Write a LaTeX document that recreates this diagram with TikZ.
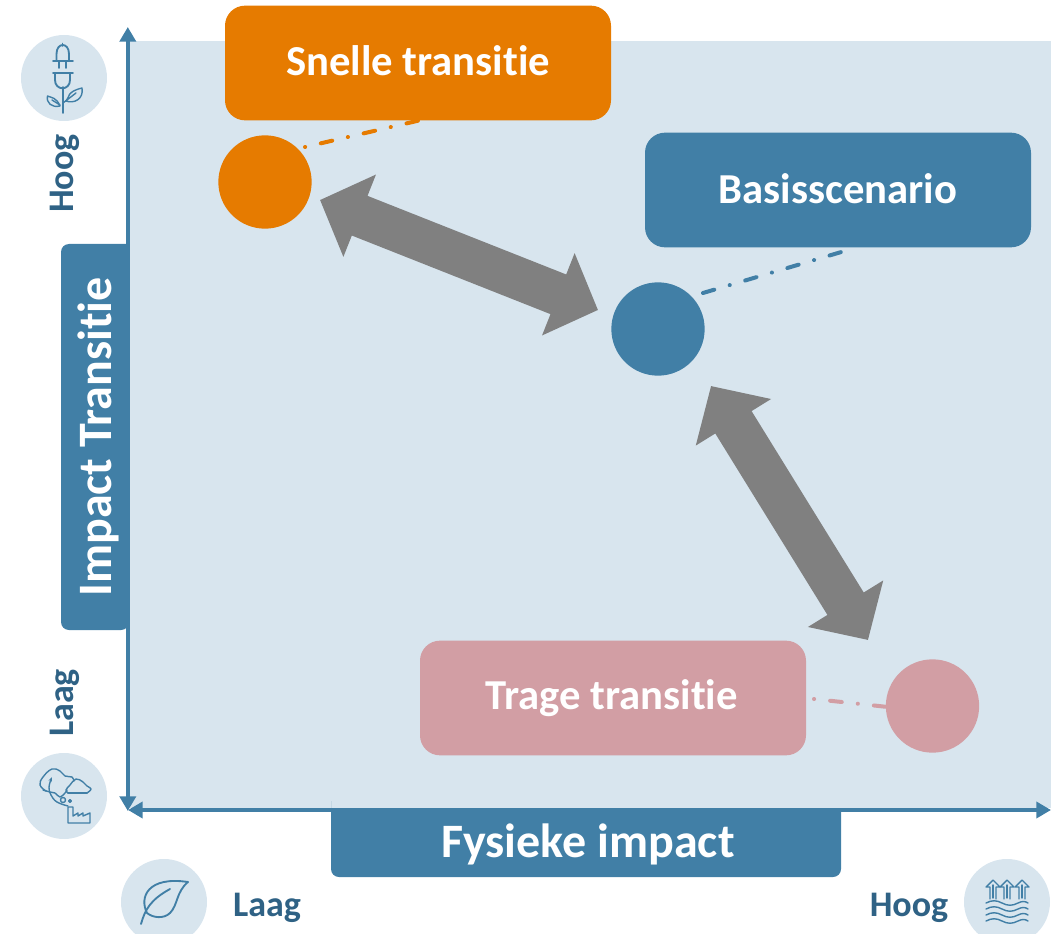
\documentclass[tikz,border=0pt]{standalone}
\usepackage{fontspec}
\setmainfont[Ligatures=NoCommon]{Carlito}
\usetikzlibrary{arrows.meta}
\definecolor{plotbg}{HTML}{D8E5EE}
\definecolor{axisblue}{HTML}{417FA6}
\definecolor{darktext}{HTML}{2F6285}
\definecolor{orangeb}{HTML}{E67B00}
\definecolor{pinkb}{HTML}{D29EA4}
\definecolor{grayarrow}{HTML}{808080}
\tikzset{
  scenario/.style={rounded corners=15pt,minimum width=289.5pt,minimum height=86pt,inner sep=0pt,text=white,font=\fontsize{32}{35}\selectfont\bfseries},
  dot/.style={circle,minimum size=70pt,inner sep=0pt},
  iconbg/.style={circle,fill=plotbg,minimum size=64.5pt,inner sep=0pt},
  axislabel/.style={text=white,font=\fontsize{36}{39}\selectfont\bfseries,inner sep=0pt},
  endlabel/.style={text=darktext,font=\fontsize{27}{30}\selectfont\bfseries,inner sep=0pt},
  axisline/.style={draw=axisblue,line width=2.8pt,{Triangle[length=11pt,width=12pt]}-{Triangle[length=11pt,width=12pt]}},
  bigarrow/.style={draw=grayarrow,line width=32pt,{Triangle[length=32pt,width=64.5pt]}-{Triangle[length=32pt,width=64.5pt]}},
  linkdot/.style={line width=3pt,line cap=round,dash pattern=on 0.1pt off 12.05pt on 8.8pt off 12.05pt},
  linkdash/.style={line width=3pt,line cap=round,dash pattern=on 8.8pt off 12.05pt on 0.1pt off 12.05pt},
  icon/.style={draw=axisblue,line width=1.4pt,fill=none,line cap=round,line join=round},
  iconthin/.style={draw=axisblue,line width=1.05pt,fill=none,line cap=round,line join=round}
}
\begin{document}
\begin{tikzpicture}[x=0.75pt,y=-0.75pt]
\useasboundingbox (0,0) rectangle (1064,934);
\fill[plotbg] (130,41) rectangle (1051,808);
\fill[axisblue,rounded corners=6pt] (129,244) -- (61,244) -- (61,630) -- (129,630) [sharp corners] -- cycle;
\fill[axisblue] (331,809) -- (841,809) [rounded corners=6pt] -- (841,877) -- (331,877) -- (331,809) [sharp corners] -- cycle;
\node[axislabel,rotate=90] (ylab) at (98.5,437) {Impact Transitie};
\node[axislabel] (xlab) at (588,844) {Fysieke impact};
\coordinate (ytop) at (127.8,27);
\coordinate (ybot) at (127.8,811);
\coordinate (xleft) at (128,810);
\coordinate (xright) at (1051,810);
\draw[axisline] (ybot) -- (ytop);
\draw[axisline] (xleft) -- (xright);
\node[scenario,fill=orangeb] (snel) at (418,63) {\raisebox{3.7pt}{Snelle transitie}};
\node[scenario,fill=axisblue] (basis) at (838,190) {\raisebox{2.5pt}{Basisscenario}};
\node[scenario,fill=pinkb] (traag) at (613,698) {\raisebox{2.5pt}{\hspace*{-2pt}Trage transitie}};
\node[dot,fill=orangeb] (d1) at (265,182) {};
\node[dot,fill=axisblue] (d2) at (658,329) {};
\node[dot,fill=pinkb] (d3) at (932.5,706) {};
\coordinate (l1a) at (305,147);
\coordinate (l1b) at (419,120.5);
\coordinate (l2a) at (703,293);
\coordinate (l2b) at (843,251.5);
\coordinate (l3a) at (814,699);
\coordinate (l3b) at (888,707);
\draw[linkdot,draw=orangeb] (l1a) -- (l1b);
\draw[linkdash,draw=axisblue] (l2a) -- (l2b);
\draw[linkdot,draw=pinkb] (l3a) -- (l3b);
\coordinate (a1) at (320,200);
\coordinate (a2) at (598,310);
\coordinate (a3) at (711,386);
\coordinate (a4) at (868,640);
\draw[bigarrow] (a1) -- (a2);
\draw[bigarrow] (a3) -- (a4);
\node[endlabel,rotate=90] (hoogy) at (64.5,173.5) {Hoog};
\node[endlabel,rotate=90] (laagy) at (64.5,703) {Laag};
\node[endlabel] (laagx) at (267,908) {Laag};
\node[endlabel] (hoogx) at (909,908) {Hoog};
\node[iconbg] (i1) at (64,78) {};
\node[iconbg] (i2) at (64,796) {};
\node[iconbg] (i3) at (164,902) {};
\node[iconbg] (i4) at (1007,902) {};
% plug
\draw[icon] (53,61) -- (73,61);
\draw[icon] (56.5,61) -- (56.5,54) .. controls (56.5,42) and (69,42) .. (69,54) -- (69,61);
\draw[icon] (62.5,46) -- (62.5,43.5);
\draw[icon] (59,61) -- (59,68) (66,61) -- (66,68);
\draw[icon] (53,73) -- (73,73);
\draw[icon] (55,73) -- (55,80) .. controls (55,91) and (70,91) .. (70,80) -- (70,73);
\draw[icon] (62.7,87) -- (62.7,113);
\draw[iconthin] (66,101) .. controls (70,97) and (66,92) .. (82,88) .. controls (84,99) and (74,104) .. (66,101);
\draw[iconthin] (63,103) -- (76,93);
\draw[iconthin] (60,106) .. controls (56,97) and (52,98) .. (47.5,96) .. controls (46,103) and (52,108) .. (60,106);
\draw[iconthin] (60,105) -- (52,100);
% clouds and factory
\draw[iconthin] plot[smooth,tension=0.7] coordinates {(46,791) (40,785) (43,777) (52,769) (60,771) (65,776) (72,777) (74,781)};
\draw[iconthin] plot[smooth,tension=0.7] coordinates {(43,790) (50,792) (55,793) (60,797) (65,793) (67,790)};
\draw[iconthin] plot[smooth,tension=0.7] coordinates {(68,793) (66,790) (70,785) (76,779) (83,782) (87,786) (91,789) (87,793)};
\draw[iconthin] (68,793) -- (87,793);
\draw[iconthin,-{Stealth[length=3.5pt]}] plot[smooth,tension=0.7] coordinates {(68,806) (57,802) (51,795) (49,787) (52,777)};
\draw[iconthin] (63,800) circle (1.9pt);
\draw[iconthin] (70,801) circle (1pt);
\draw[iconthin] (68,807) -- (68,823) -- (90,823) -- (90,813) -- (83,816) -- (83,813) -- (78,816) -- (78,813) -- (73,816) -- (73,807) -- cycle;
% leaf
\draw[icon] (141,924) .. controls (145,910) and (150,900) .. (170,889);
\draw[icon] (147,913) .. controls (139,897) and (148,876) .. (188,882) .. controls (176,892) and (178,905) .. (170,913) .. controls (164,919) and (153,918) .. (147,913);
% waves
\foreach \yy in {903,909,915,921}{
  \draw[iconthin] (986,\yy) .. controls (992,\yy-3) and (996,\yy-3) .. (1002,\yy) .. controls (1008,\yy+3) and (1012,\yy+3) .. (1018,\yy) .. controls (1022,\yy-2) and (1025,\yy-2) .. (1028,\yy);
}
\foreach \xx in {993,1007,1022}{
  \draw[iconthin] (\xx-7,887) -- (\xx,880) -- (\xx+7,887) -- (\xx+3,887) -- (\xx+3,899) (\xx-3,899) -- (\xx-3,887) -- (\xx-7,887);
  \draw[iconthin] (\xx,885) -- (\xx,898);
}
\end{tikzpicture}
\end{document}
